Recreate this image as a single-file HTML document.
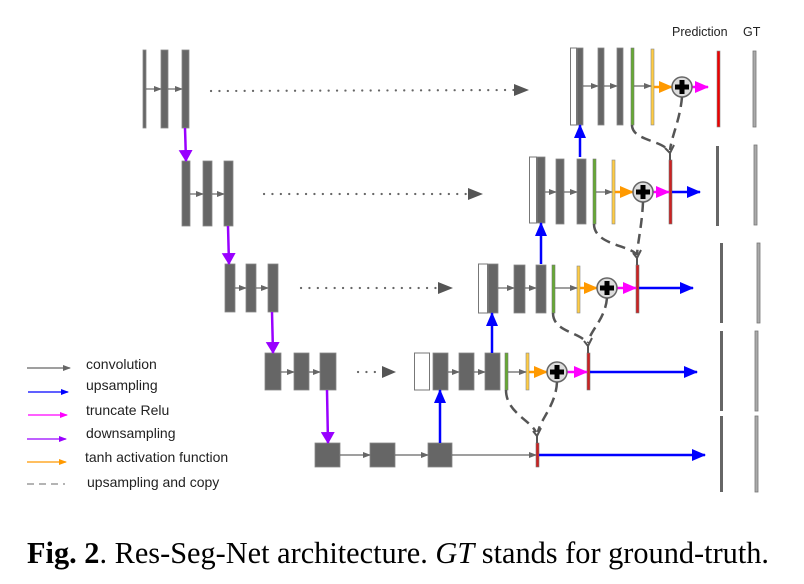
<!DOCTYPE html>
<html><head><meta charset="utf-8"><style>
html,body{margin:0;padding:0;background:#fff;width:804px;height:584px;overflow:hidden}
svg{display:block}
.sans{font-family:"Liberation Sans",sans-serif}
.serif{font-family:"Liberation Serif",serif}
</style></head><body>
<svg width="804" height="584" viewBox="0 0 804 584" xmlns="http://www.w3.org/2000/svg">
<defs>
<marker id="ag" markerWidth="8" markerHeight="6" refX="7" refY="3" orient="auto" markerUnits="userSpaceOnUse"><path d="M0,0L8,3L0,6z" fill="#666"/></marker>
<marker id="ab" markerWidth="14" markerHeight="12" refX="13" refY="6" orient="auto" markerUnits="userSpaceOnUse"><path d="M0,0L14,6L0,12z" fill="#00f"/></marker>
<marker id="ap" markerWidth="12" markerHeight="14" refX="11" refY="7" orient="auto" markerUnits="userSpaceOnUse"><path d="M0,0L12,7L0,14z" fill="#90f"/></marker>
<marker id="am" markerWidth="14" markerHeight="12" refX="13" refY="6" orient="auto" markerUnits="userSpaceOnUse"><path d="M0,0L14,6L0,12z" fill="#f0f"/></marker>
<marker id="ao" markerWidth="14" markerHeight="12" refX="13" refY="6" orient="auto" markerUnits="userSpaceOnUse"><path d="M0,0L14,6L0,12z" fill="#f90"/></marker>
<marker id="abs" markerWidth="8" markerHeight="6" refX="7" refY="3" orient="auto" markerUnits="userSpaceOnUse"><path d="M0,0L8,3L0,6z" fill="#00f"/></marker>
<marker id="ams" markerWidth="8" markerHeight="6" refX="7" refY="3" orient="auto" markerUnits="userSpaceOnUse"><path d="M0,0L8,3L0,6z" fill="#f0f"/></marker>
<marker id="aps" markerWidth="8" markerHeight="6" refX="7" refY="3" orient="auto" markerUnits="userSpaceOnUse"><path d="M0,0L8,3L0,6z" fill="#90f"/></marker>
<marker id="aos" markerWidth="8" markerHeight="6" refX="7" refY="3" orient="auto" markerUnits="userSpaceOnUse"><path d="M0,0L8,3L0,6z" fill="#f90"/></marker>
<g id="plus"><circle r="10" fill="#ddd" stroke="#666" stroke-width="1.5"/><rect x="-7" y="-2.5" width="14" height="5" fill="#000"/><rect x="-2.5" y="-7" width="5" height="14" fill="#000"/></g>
</defs>

<g fill="#666" stroke="#888" stroke-width="0.8">
<rect x="143" y="50" width="3" height="78"/><rect x="161" y="50" width="7" height="78"/><rect x="182" y="50" width="7" height="78"/>
<rect x="182" y="161" width="8" height="65"/><rect x="203" y="161" width="9" height="65"/><rect x="224" y="161" width="9" height="65"/>
<rect x="225" y="264" width="10" height="48"/><rect x="246" y="264" width="10" height="48"/><rect x="268" y="264" width="10" height="48"/>
<rect x="265" y="353" width="16" height="37"/><rect x="294" y="353" width="15" height="37"/><rect x="320" y="353" width="16" height="37"/>
<rect x="315" y="443" width="25" height="24"/><rect x="370" y="443" width="25" height="24"/><rect x="428" y="443" width="24" height="24"/>
<rect x="577" y="48" width="6" height="77"/><rect x="598" y="48" width="6" height="77"/><rect x="617" y="48" width="6" height="77"/>
<rect x="537" y="157" width="8" height="66"/><rect x="556" y="159" width="8" height="65"/><rect x="577" y="159" width="9" height="65"/>
<rect x="488" y="264" width="10" height="49"/><rect x="514" y="265" width="11" height="48"/><rect x="536" y="265" width="10" height="48"/>
<rect x="433" y="353" width="15" height="37"/><rect x="459" y="353" width="15" height="37"/><rect x="485" y="353" width="15" height="37"/>
</g>
<g fill="#fff" stroke="#777" stroke-width="1">
<rect x="570.5" y="48" width="6" height="77"/><rect x="529.5" y="157" width="7" height="66"/><rect x="478.5" y="264" width="9" height="49"/><rect x="414.5" y="353" width="15" height="37"/>
</g>
<g fill="#6a3" stroke="#777" stroke-width="0.6">
<rect x="631" y="48" width="3" height="77"/><rect x="593" y="159" width="3" height="65"/><rect x="552" y="265" width="3" height="48"/><rect x="505" y="353" width="3" height="37"/>
</g>
<g fill="#fc4" stroke="#888" stroke-width="0.6">
<rect x="651" y="49" width="3" height="76"/><rect x="612" y="160" width="3" height="64"/><rect x="577" y="266" width="3" height="47"/><rect x="526" y="353" width="3" height="37"/>
</g>
<g fill="#c22" stroke="#777" stroke-width="0.6">
<rect x="669" y="160" width="3" height="64"/><rect x="636" y="265" width="3" height="48"/><rect x="587" y="353" width="3" height="37"/><rect x="536" y="443" width="3" height="24"/>
</g>
<rect x="717" y="51" width="3" height="76" fill="#e00" stroke="#888" stroke-width="0.6"/>
<g fill="#666"><rect x="716" y="146" width="3" height="80"/><rect x="720" y="243" width="3" height="80"/><rect x="720" y="331" width="3" height="80"/><rect x="720" y="416" width="3" height="76"/></g>
<g fill="#aaa" stroke="#777" stroke-width="0.8"><rect x="753" y="51" width="3" height="76"/><rect x="754" y="145" width="3" height="80"/><rect x="757" y="243" width="3" height="80"/><rect x="755" y="331" width="3" height="80"/><rect x="755" y="416" width="3" height="76"/></g>

<g stroke="#666" stroke-width="1.2" marker-end="url(#ag)">
<line x1="146" y1="89" x2="161" y2="89"/><line x1="168" y1="89" x2="182" y2="89"/>
<line x1="190" y1="194" x2="203" y2="194"/><line x1="212" y1="194" x2="224" y2="194"/>
<line x1="235" y1="288" x2="246" y2="288"/><line x1="256" y1="288" x2="268" y2="288"/>
<line x1="281" y1="372" x2="294" y2="372"/><line x1="309" y1="372" x2="320" y2="372"/>
<line x1="340" y1="455" x2="370" y2="455"/><line x1="395" y1="455" x2="428" y2="455"/><line x1="452" y1="455" x2="536" y2="455"/>
<line x1="583" y1="86" x2="598" y2="86"/><line x1="604" y1="86" x2="617" y2="86"/><line x1="634" y1="86" x2="651" y2="86"/>
<line x1="545" y1="192" x2="556" y2="192"/><line x1="564" y1="192" x2="577" y2="192"/><line x1="596" y1="192" x2="612" y2="192"/>
<line x1="498" y1="288" x2="514" y2="288"/><line x1="525" y1="288" x2="536" y2="288"/><line x1="555" y1="288" x2="577" y2="288"/>
<line x1="448" y1="372" x2="459" y2="372"/><line x1="474" y1="372" x2="485" y2="372"/><line x1="508" y1="372" x2="526" y2="372"/>
</g>
<g stroke="#666" stroke-width="2.2" stroke-dasharray="0.1 8.3" stroke-linecap="round" fill="none">
<line x1="211" y1="91" x2="516" y2="90"/><line x1="264" y1="194" x2="470" y2="194"/><line x1="301" y1="288" x2="440" y2="288"/><line x1="358" y1="372" x2="383" y2="372"/>
</g>
<g fill="#555">
<path d="M514,84 L529,90 L514,96z"/><path d="M468,188 L483,194 L468,200z"/><path d="M438,282 L453,288 L438,294z"/><path d="M382,366 L396,372 L382,378z"/>
</g>
<g stroke="#90f" stroke-width="2.5" marker-end="url(#ap)">
<line x1="185" y1="128" x2="186" y2="161"/><line x1="228" y1="226" x2="229" y2="264"/><line x1="272" y1="312" x2="273" y2="353"/><line x1="327" y1="390" x2="328" y2="443"/>
</g>
<g stroke="#00f" stroke-width="2.5" marker-end="url(#ab)">
<line x1="440" y1="443" x2="440" y2="390"/><line x1="492" y1="353" x2="492" y2="313"/><line x1="541" y1="264" x2="541" y2="223"/><line x1="580" y1="157" x2="580" y2="125"/>
<line x1="539" y1="455" x2="705" y2="455"/><line x1="590" y1="372" x2="697" y2="372"/><line x1="639" y1="288" x2="693" y2="288"/><line x1="672" y1="192" x2="700" y2="192"/>
</g>
<g stroke="#f90" stroke-width="2.5" marker-end="url(#ao)">
<line x1="654" y1="87" x2="672" y2="87"/><line x1="615" y1="192" x2="633" y2="192"/><line x1="580" y1="288" x2="597" y2="288"/><line x1="529" y1="372" x2="547" y2="372"/>
</g>
<g stroke="#f0f" stroke-width="2.5" marker-end="url(#am)">
<line x1="692" y1="87" x2="708" y2="87"/><line x1="653" y1="192" x2="669" y2="192"/><line x1="617" y1="288" x2="636" y2="288"/><line x1="567" y1="372" x2="587" y2="372"/>
</g>
<use href="#plus" x="682" y="87"/><use href="#plus" x="643" y="192"/><use href="#plus" x="607" y="288"/><use href="#plus" x="557" y="372"/>
<g stroke="#555" stroke-width="2.5" stroke-dasharray="10 6" fill="none">
<path d="M632,125 C632,140 660,140 668,150"/><path d="M682,97 C680,120 672,135 670,150"/>
<path d="M594,224 C594,245 630,245 637,255"/><path d="M643,202 C642,225 638,240 637,255"/>
<path d="M553,313 C553,332 580,332 587,343"/><path d="M607,298 C605,320 590,330 588,343"/>
<path d="M506,390 C506,412 530,420 536,432"/><path d="M557,382 C556,405 540,420 538,432"/>
</g>
<g stroke="#555" stroke-width="2" fill="none">
<path d="M665,148 L670,153 L674,145 M670,153 V160"/><path d="M633,253 L637,258 L641,250 M637,258 V265"/>
<path d="M584,341 L588,346 L592,338 M588,346 V353"/><path d="M533,431 L537,436 L541,428 M537,436 V443"/>
</g>

<text class="sans" x="672" y="36" font-size="12.5" fill="#222">Prediction</text>
<text class="sans" x="743" y="36" font-size="12.5" fill="#222">GT</text>

<g stroke-width="1.2">
<line x1="27" y1="368" x2="70" y2="368" stroke="#666" marker-end="url(#ag)"/>
<line x1="28" y1="392" x2="68" y2="392" stroke="#00f" marker-end="url(#abs)"/>
<line x1="28" y1="415" x2="67" y2="415" stroke="#f0f" marker-end="url(#ams)"/>
<line x1="27" y1="439" x2="66" y2="439" stroke="#90f" marker-end="url(#aps)"/>
<line x1="27" y1="462" x2="66" y2="462" stroke="#f90" marker-end="url(#aos)"/>
<line x1="27" y1="484" x2="65" y2="484" stroke="#888" stroke-dasharray="7 5"/>
</g>
<g class="sans" font-size="14" fill="#222">
<text x="86" y="369">convolution</text><text x="86" y="390">upsampling</text><text x="86" y="415">truncate Relu</text>
<text x="86" y="438">downsampling</text><text x="85" y="462">tanh activation function</text><text x="87" y="487">upsampling and copy</text>
</g>

<text class="serif" x="27" y="563" font-size="31" fill="#000" textLength="742" lengthAdjust="spacingAndGlyphs"><tspan font-weight="bold">Fig. 2</tspan>. Res-Seg-Net architecture. <tspan font-style="italic">GT</tspan> stands for ground-truth.</text>
</svg>
</body></html>
